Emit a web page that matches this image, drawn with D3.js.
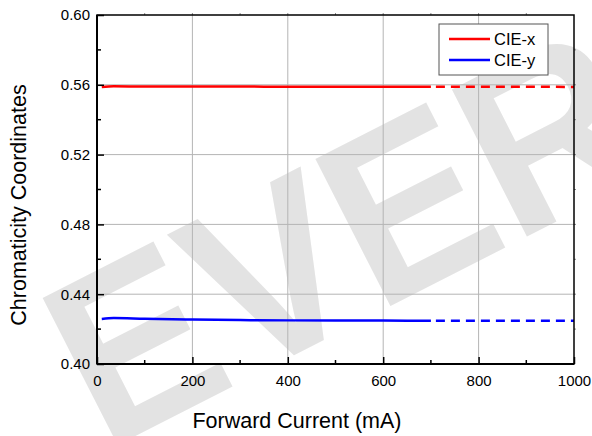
<!DOCTYPE html>
<html>
<head>
<meta charset="utf-8">
<script src="https://cdn.jsdelivr.net/npm/d3@7.9.0/dist/d3.min.js"></script>
<style>
  body { margin: 0; background: #fff; }
  svg text { font-family: "Liberation Sans", Arial, sans-serif; }
</style>
</head>
<body>
<div id="chart"></div>
<script>
// data
const currentSolid = [10, 35, 100, 200, 300, 400, 500, 600, 700];
const cieXSolid = [0.5587, 0.5591, 0.5590, 0.5590, 0.5590, 0.5589, 0.5589, 0.5589, 0.5589];
const cieYSolid = [0.4258, 0.4263, 0.4259, 0.4255, 0.4252, 0.4250, 0.4250, 0.4249, 0.4248];
const currentDash = [700, 1000];
const cieXDash = [0.5589, 0.5588];
const cieYDash = [0.4248, 0.4248];
const xTicks = [0, 200, 400, 600, 800, 1000];
const yTicks = [0.40, 0.44, 0.48, 0.52, 0.56, 0.60];
const seriesNames = ["CIE-x", "CIE-y"];
const seriesColors = ["#ff0000", "#0000ff"];

const width = 592, height = 436;
const margin = { top: 15, right: 18, bottom: 72, left: 97 };
const usable = {
  left: margin.left,
  right: width - margin.right,
  top: margin.top,
  bottom: height - margin.bottom,
};

const svg = d3.select("#chart").append("svg")
  .attr("width", width)
  .attr("height", height);

// watermark (faint, partly off the page like the reference)
svg.append("text")
  .attr("transform", "translate(104,452) rotate(-27)")
  .attr("font-size", 240)
  .attr("font-weight", "bold")
  .attr("fill", "#e3e3e3")
  .attr("textLength", 625)
  .attr("lengthAdjust", "spacingAndGlyphs")
  .text("EVER");

const x = d3.scaleLinear().domain([0, 1000]).range([usable.left, usable.right]);
const y = d3.scaleLinear().domain([0.40, 0.60]).range([usable.bottom, usable.top]);

// grid
svg.append("g")
  .selectAll("line")
  .data(xTicks.slice(1, -1))
  .join("line")
  .attr("x1", d => x(d)).attr("x2", d => x(d))
  .attr("y1", usable.top).attr("y2", usable.bottom)
  .attr("stroke", "#b4b4b4").attr("stroke-width", 1);
svg.append("g")
  .selectAll("line")
  .data(yTicks.slice(1, -1))
  .join("line")
  .attr("x1", usable.left).attr("x2", usable.right)
  .attr("y1", d => y(d)).attr("y2", d => y(d))
  .attr("stroke", "#b4b4b4").attr("stroke-width", 1);

// lines
const line = d3.line().x(d => x(d[0])).y(d => y(d[1])).curve(d3.curveMonotoneX);
const solid = [d3.zip(currentSolid, cieXSolid), d3.zip(currentSolid, cieYSolid)];
const dashed = [d3.zip(currentDash, cieXDash), d3.zip(currentDash, cieYDash)];
solid.forEach((s, i) => {
  svg.append("path").attr("d", line(s)).attr("fill", "none")
    .attr("stroke", seriesColors[i]).attr("stroke-width", 2.5);
});
dashed.forEach((s, i) => {
  svg.append("path").attr("d", line(s)).attr("fill", "none")
    .attr("stroke", seriesColors[i]).attr("stroke-width", 2.5)
    .attr("stroke-dasharray", "9,6").attr("stroke-dashoffset", -5);
});

// axes (ticks inward)
const xAxis = svg.append("g")
  .attr("transform", `translate(0,${usable.bottom})`)
  .call(d3.axisBottom(x).tickValues(xTicks).tickSize(-7).tickPadding(11).tickFormat(d3.format("d")));
const yAxis = svg.append("g")
  .attr("transform", `translate(${usable.left},0)`)
  .call(d3.axisLeft(y).tickValues(yTicks).tickSize(-7).tickPadding(7).tickFormat(d3.format(".2f")));
[xAxis, yAxis].forEach(g => {
  g.select(".domain").remove();
  g.selectAll("line").attr("stroke", "#000").attr("stroke-width", 1.5);
  g.selectAll("text").attr("font-size", 15).attr("fill", "#000")
    .style("font-family", "'Liberation Sans', Arial, sans-serif");
});

// minor ticks
svg.append("g").selectAll("line")
  .data(d3.range(100, 1000, 200))
  .join("line")
  .attr("x1", d => x(d)).attr("x2", d => x(d))
  .attr("y1", usable.bottom).attr("y2", usable.bottom - 4)
  .attr("stroke", "#000").attr("stroke-width", 1.5);
svg.append("g").selectAll("line")
  .data([0.42, 0.46, 0.50, 0.54, 0.58])
  .join("line")
  .attr("x1", usable.left).attr("x2", usable.left + 4)
  .attr("y1", d => y(d)).attr("y2", d => y(d))
  .attr("stroke", "#000").attr("stroke-width", 1.5);

// faint outer ticks on top and right
svg.append("g").selectAll("line")
  .data(d3.range(100, 1000, 100))
  .join("line")
  .attr("x1", d => x(d)).attr("x2", d => x(d))
  .attr("y1", usable.top).attr("y2", usable.top - 2)
  .attr("stroke", "#888").attr("stroke-width", 1);
svg.append("g").selectAll("line")
  .data(d3.range(0.42, 0.6, 0.02))
  .join("line")
  .attr("x1", usable.right).attr("x2", usable.right + 2)
  .attr("y1", d => y(d)).attr("y2", d => y(d))
  .attr("stroke", "#888").attr("stroke-width", 1);

// frame
svg.append("rect")
  .attr("x", usable.left).attr("y", usable.top)
  .attr("width", usable.right - usable.left)
  .attr("height", usable.bottom - usable.top)
  .attr("fill", "none").attr("stroke", "#000").attr("stroke-width", 1.5);
svg.append("line")
  .attr("x1", usable.left).attr("x2", usable.left)
  .attr("y1", usable.top).attr("y2", usable.bottom)
  .attr("stroke", "#000").attr("stroke-width", 2);
svg.append("line")
  .attr("x1", usable.left).attr("x2", usable.right)
  .attr("y1", usable.bottom).attr("y2", usable.bottom)
  .attr("stroke", "#000").attr("stroke-width", 2);

// axis titles
svg.append("text")
  .attr("x", 297).attr("y", 428)
  .attr("text-anchor", "middle")
  .attr("font-size", 21.5)
  .text("Forward Current (mA)");
svg.append("text")
  .attr("transform", "translate(26,205) rotate(-90)")
  .attr("text-anchor", "middle")
  .attr("font-size", 21.5)
  .text("Chromaticity Coordinates");

// legend
const legend = svg.append("g");
legend.append("rect")
  .attr("x", 439).attr("y", 24).attr("width", 109).attr("height", 51)
  .attr("fill", "#fff").attr("stroke", "#555").attr("stroke-width", 1);
seriesNames.forEach((name, i) => {
  const ly = 39 + i * 21;
  legend.append("line")
    .attr("x1", 449).attr("x2", 490).attr("y1", ly).attr("y2", ly)
    .attr("stroke", seriesColors[i]).attr("stroke-width", 2.5);
  legend.append("text")
    .attr("x", 494).attr("y", ly + 6)
    .attr("font-size", 16.5)
    .text(name);
});
</script>
</body>
</html>
